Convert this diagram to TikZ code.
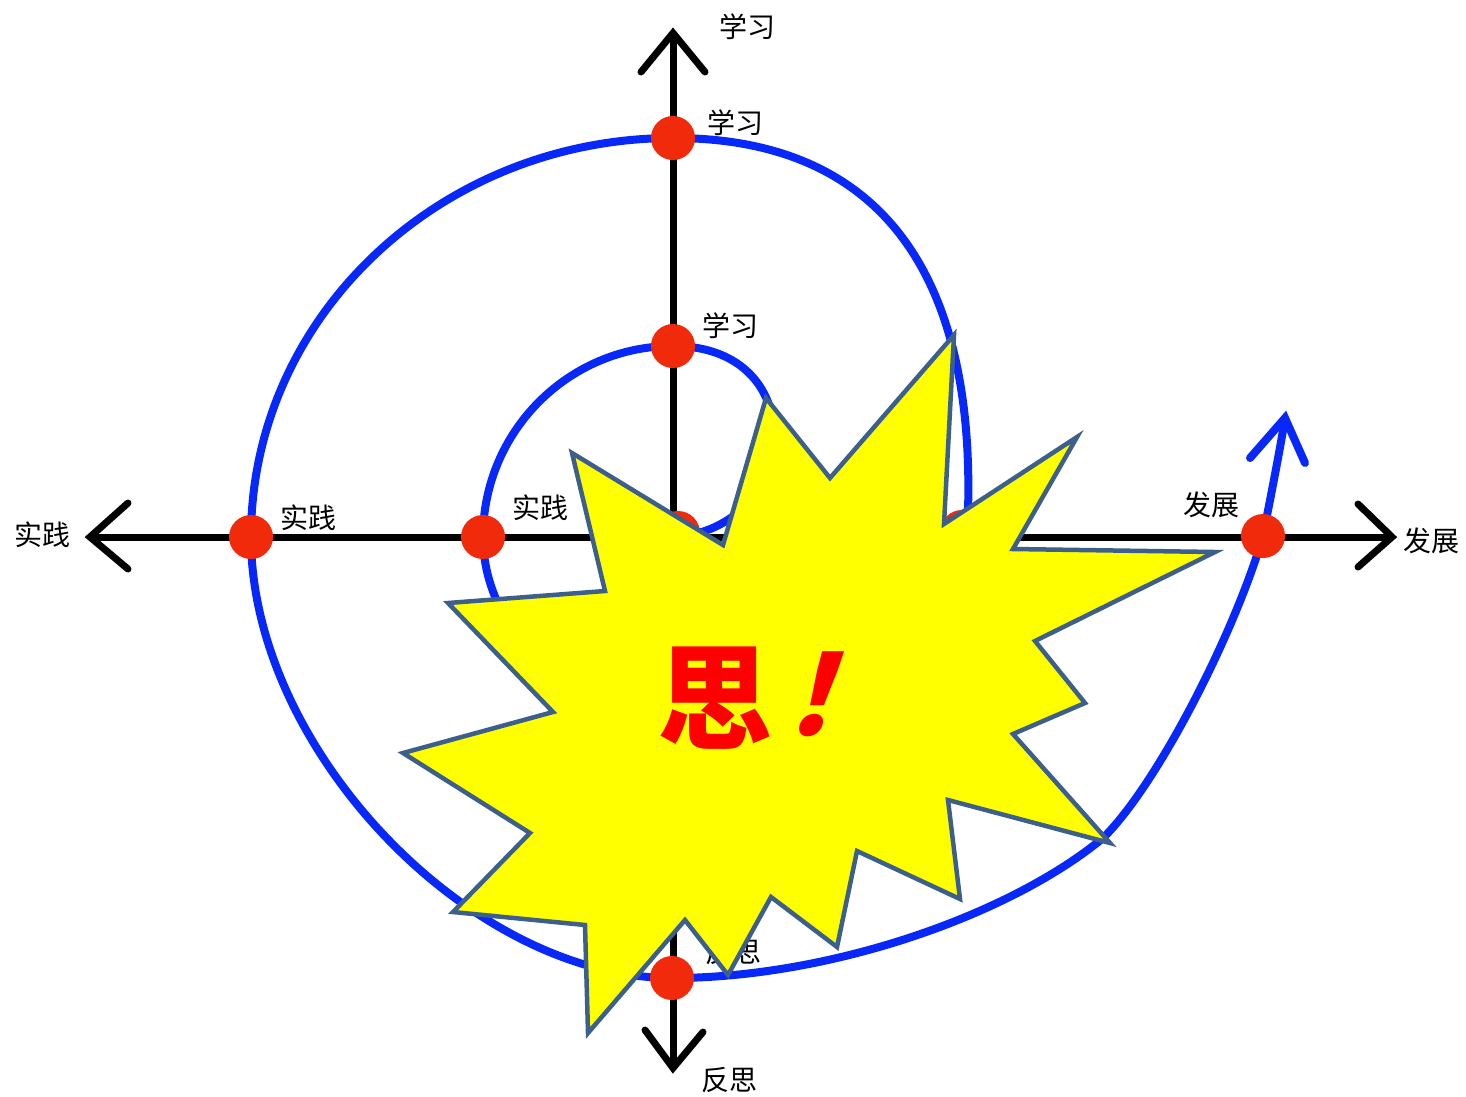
\documentclass[tikz,border=0pt]{standalone}
\usepackage{fontspec}
\usetikzlibrary{calc}
\newfontfamily\cjk{Noto Sans CJK SC}
\newfontfamily\cjkslant[FakeSlant=0.3]{Noto Sans CJK SC}
\definecolor{spiralblue}{RGB}{8,40,250}
\definecolor{dotred}{RGB}{240,42,10}
\definecolor{staredge}{RGB}{60,95,140}
\definecolor{staryellow}{RGB}{255,255,0}
\begin{document}
\begin{tikzpicture}[x=1pt,y=-1pt,
  axis/.style={draw=black,line width=7pt},
  chev/.style={draw=black,line width=7pt,line cap=round,line join=miter},
  spiral/.style={draw=spiralblue,line width=8pt},
  dotmark/.style={circle,fill=dotred,minimum size=44pt,inner sep=0pt},
  lab/.style={font=\cjk\fontsize{28}{30}\selectfont,inner sep=0pt,text=black},
  starshape/.style={draw=staredge,fill=staryellow,line width=4.5pt,line join=miter},
  bigtxt/.style={text=red,inner sep=0pt}]
\useasboundingbox (0,0) rectangle (1466,1096);
% axes
\coordinate (O) at (673,537);
\coordinate (T) at (673,33);
\coordinate (B) at (673,1068);
\coordinate (L) at (90,537);
\coordinate (R) at (1392,537);
\draw[axis] (T) -- (B);
\draw[axis] (L) -- (R);
\draw[chev] ($(T)+(-32,39)$) -- (T) -- ($(T)+(32,39)$);
\draw[chev] ($(B)+(-28,-38)$) -- (B) -- ($(B)+(30,-36)$);
\draw[chev] ($(L)+(38,-34)$) -- (L) -- ($(L)+(38,32)$);
\draw[chev] ($(R)+(-34,-33)$) -- (R) -- ($(R)+(-34,30)$);
% spiral
\coordinate (S) at (1285,418);
\draw[spiral] (O)
  .. controls (800,530) and (815,346) .. (673,346)
  .. controls (568,346) and (483,432) .. (483,537)
  .. controls (483,640) and (590,728) .. (690,728)
  .. controls (830,728) and (961,640) .. (967,535)
  .. controls (980,300) and (900,138) .. (673,138)
  .. controls (440,138) and (251,317) .. (251,537)
  .. controls (251,749) and (470,978) .. (672,978)
  .. controls (830,978) and (1010,915) .. (1103,838)
  .. controls (1158,784) and (1235,632) .. (1263,536)
  .. controls (1270,500) and (1280,450) .. (S);
\draw[spiral,line cap=round,line join=miter] ($(S)+(-35,40)$) -- (S) -- ($(S)+(20,45)$);
% dots
\node[dotmark] (d1) at (673,138) {};
\node[dotmark] (d2) at (673,346) {};
\node[dotmark] (d3) at (251,537) {};
\node[dotmark] (d4) at (483,537) {};
\node[dotmark] (d5) at (678,533) {};
\node[dotmark] (d6) at (962,532) {};
\node[dotmark] (d7) at (1263,536) {};
\node[dotmark] (d8) at (672,978) {};
% labels
\node[lab] (l1) at (747,27) {学习};
\node[lab] (l2) at (735,123) {学习};
\node[lab] (l3) at (730,326) {学习};
\node[lab] (l4) at (42,535) {实践};
\node[lab] (l5) at (308,518) {实践};
\node[lab] (l6) at (540,508) {实践};
\node[lab] (l7) at (1211,505) {发展};
\node[lab] (l8) at (1431,541) {发展};
\node[lab] (l9) at (729,1080) {反思};
\node[lab] (l10) at (733,952) {反思};
% star
\draw[starshape] (954,335) -- (944,524) -- (1077,437) -- (1013,549) -- (1215,552)
 -- (1035,641) -- (1085,703) -- (1013,734) -- (1110,843) -- (948,800) -- (960,899)
 -- (857,851) -- (837,947) -- (771,897) -- (728,975) -- (685,920) -- (588,1033)
 -- (585,925) -- (453,912) -- (530,833) -- (403,753) -- (553,712) -- (448,603)
 -- (605,591) -- (572,453) -- (723,545) -- (766,398) -- (830,478) -- cycle;
\node[bigtxt,font=\cjk\bfseries\fontsize{115}{120}\selectfont] (si) at (715,698) {思};
\node[bigtxt,font=\cjkslant\bfseries\fontsize{112}{120}\selectfont] (ex) at (836,694) {！};
\end{tikzpicture}
\end{document}
